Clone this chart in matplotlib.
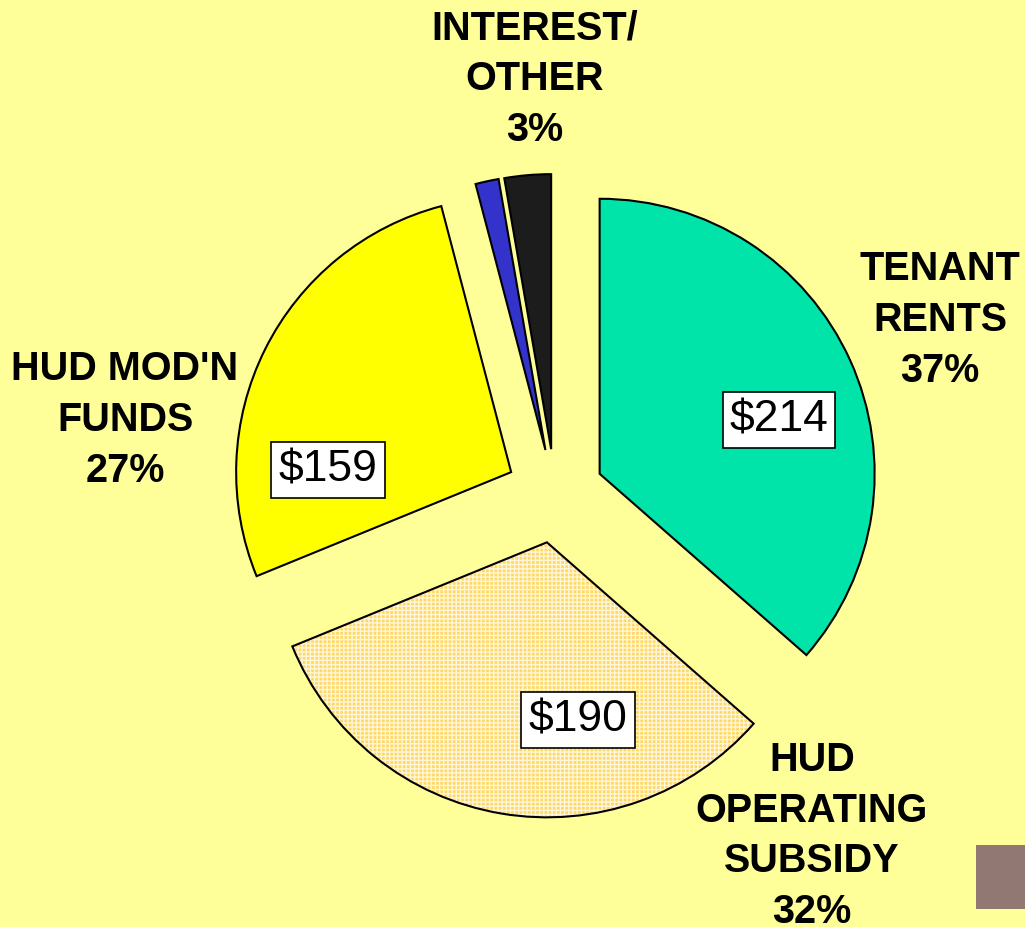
import matplotlib.pyplot as plt
from matplotlib.patches import Wedge, Rectangle

# revenue sources ($ millions)
categories = ["TENANT\nRENTS", "HUD\nOPERATING\nSUBSIDY", "HUD MOD'N\nFUNDS", "INTEREST", "OTHER"]
values = [214, 190, 159, 8, 16]
pct_labels = ["37%", "32%", "27%", "3%"]
value_labels = ["$214", "$190", "$159"]
colors = ["#00E3A9", "#FFD966", "#FFFF00", "#3333CC", "#1C1C1C"]

bg = "#FFFF99"
fig = plt.figure(figsize=(10.25, 9.27), dpi=100, facecolor=bg)
ax = fig.add_axes([0, 0, 1, 1])
ax.set_facecolor(bg)

H = 927
cx, cy, R = 555, H - 494, 275
# explode is in data units (pixels here)
explode = [49, 49, 49, 45, 45]

wedges, _ = ax.pie(values, colors=colors, explode=explode, startangle=90,
                   counterclock=False, center=(cx, cy), radius=R,
                   wedgeprops=dict(edgecolor="black", linewidth=1.5),
                   frame=True)
ax.set_xlim(0, 1025)
ax.set_ylim(0, 927)
ax.set_aspect("equal")
ax.axis("off")

# textured operating subsidy slice
w = wedges[1]
w.set_hatch("++++")
w.set_edgecolor("#FFF6D8")
w.set_linewidth(0)
ax.add_patch(Wedge(w.center, w.r, w.theta1, w.theta2, fill=False,
                   edgecolor="black", linewidth=1.5, zorder=3))

font = "Liberation Sans"
lbl = dict(fontsize=28.5, fontweight="bold", family=font, ha="center",
           va="center", linespacing=1.42)
ax.text(940, H - 320, categories[0] + "\n" + pct_labels[0], **lbl)
ax.text(812, H - 836, categories[1] + "\n" + pct_labels[1], **lbl)
ax.text(125, H - 420, categories[2] + "\n" + pct_labels[2], **lbl)
ax.text(535, H - 79, "INTEREST/\nOTHER\n" + pct_labels[3], **lbl)

box = dict(boxstyle="square,pad=0.16", facecolor="white", edgecolor="black", linewidth=1.2)
val_pos = [(779, 420), (578, 720), (328, 470)]
for (x, y), s in zip(val_pos, value_labels):
    ax.text(x, H - y, s, fontsize=32, family=font, ha="center", va="center",
            bbox=box, zorder=5)

# small decoration bottom right
ax.add_patch(Rectangle((976, H - 909), 60, 64, facecolor="#927872", edgecolor="none"))

fig.savefig("out.png", dpi=100, facecolor=bg)
